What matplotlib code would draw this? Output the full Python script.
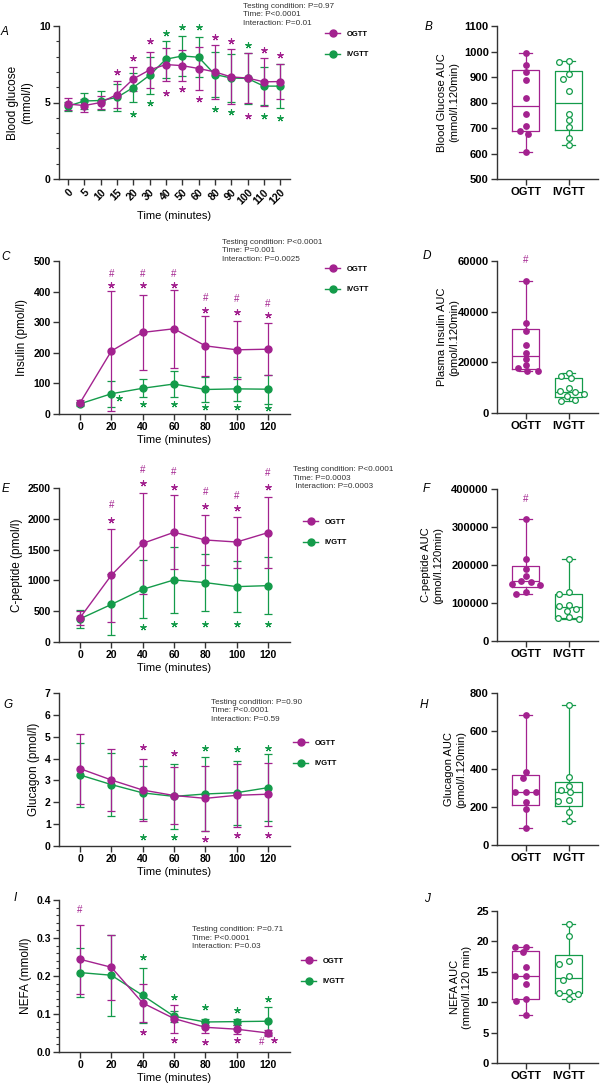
import numpy as np
import matplotlib
matplotlib.use('Agg')
import matplotlib.pyplot as plt
from matplotlib.lines import Line2D
from matplotlib.ticker import MultipleLocator

plt.rcParams['font.family'] = ['Liberation Sans', 'DejaVu Sans']
plt.rcParams['font.weight'] = 'bold'

# ---- data ----
a_time = ['0', '5', '10', '15', '20', '30', '40', '50', '60', '80', '90', '100', '110', '120']
a_og_mean = [4.9, 4.8, 5.0, 5.52, 6.54, 7.13, 7.48, 7.41, 7.22, 7.0, 6.67, 6.6, 6.35, 6.37]
a_og_sd = [0.4, 0.4, 0.4, 0.9, 0.8, 1.17, 1.1, 1.0, 1.4, 1.75, 1.8, 1.65, 1.58, 1.17]
a_iv_mean = [4.76, 5.1, 5.13, 5.33, 5.98, 6.78, 7.83, 8.04, 7.96, 6.83, 6.6, 6.57, 6.07, 6.07]
a_iv_sd = [0.3, 0.55, 0.65, 0.9, 0.95, 1.2, 1.2, 1.3, 1.3, 1.45, 1.55, 1.65, 1.25, 1.45]
a_og_star = [('15', 7.0), ('20', 7.93), ('30', 9.0), ('80', 9.3), ('90', 9.0), ('110', 8.46),
             ('120', 8.13), ('40', 5.65), ('50', 5.85), ('60', 5.24), ('100', 4.1)]
a_iv_star = [('40', 9.57), ('50', 9.93), ('60', 9.93), ('100', 8.78), ('20', 4.28), ('30', 4.98),
             ('80', 4.6), ('90', 4.39), ('110', 4.13), ('120', 3.96)]

time = [0, 20, 40, 60, 80, 100, 120]

c_og_mean = [35, 205, 266, 278, 222, 209, 211]
c_og_sd = [8, 197, 122, 128, 98, 94, 86]
c_iv_mean = [32, 65, 83, 97, 79, 81, 80]
c_iv_sd = [6, 43, 30, 43, 40, 40, 47]
c_og_star = [(20, 420), (40, 420), (60, 420), (80, 339), (100, 332), (120, 322)]
c_og_hash = [(20, 459), (40, 459), (60, 459), (80, 379), (100, 374), (120, 358)]
c_iv_star = [(25, 51), (40, 31), (60, 31), (80, 23), (100, 23), (120, 18)]

e_og_mean = [392, 1084, 1601, 1781, 1656, 1623, 1776]
e_og_sd = [116, 757, 817, 600, 408, 414, 577]
e_iv_mean = [376, 610, 855, 1008, 964, 899, 915]
e_iv_sd = [149, 496, 470, 540, 465, 415, 460]
e_og_star = [(20, 1983), (40, 2582), (60, 2516), (80, 2211), (100, 2173), (120, 2516)]
e_og_hash = [(20, 2222), (40, 2800), (60, 2756), (80, 2440), (100, 2375), (120, 2745)]
e_iv_star = [(40, 250), (60, 300), (80, 300), (100, 300), (120, 300)]

g_og_mean = [3.54, 3.02, 2.56, 2.31, 2.18, 2.32, 2.37]
g_og_sd = [1.6, 1.42, 1.4, 1.3, 1.48, 1.43, 1.45]
g_iv_mean = [3.25, 2.81, 2.43, 2.27, 2.38, 2.44, 2.67]
g_iv_sd = [1.48, 1.45, 1.21, 1.49, 1.71, 1.47, 1.53]
g_og_star = [(40, 4.52), (60, 4.24), (80, 0.34), (100, 0.5), (120, 0.5)]
g_iv_star = [(80, 4.5), (100, 4.43), (120, 4.5), (40, 0.43), (60, 0.43)]

i_og_mean = [0.244, 0.223, 0.129, 0.088, 0.065, 0.060, 0.050]
i_og_sd = [0.091, 0.086, 0.05, 0.037, 0.015, 0.012, 0.009]
i_iv_mean = [0.209, 0.202, 0.149, 0.094, 0.079, 0.080, 0.081]
i_iv_sd = [0.064, 0.106, 0.073, 0.015, 0.009, 0.008, 0.037]
i_og_star = [(40, 0.053), (60, 0.031), (80, 0.026), (100, 0.031), (124, 0.032)]
i_og_hash = [(0, 0.374), (116, 0.026)]
i_iv_star = [(40, 0.251), (60, 0.146), (80, 0.118), (100, 0.111), (120, 0.140)]

b_og = [996, 948, 919, 888, 818, 754, 708, 690, 677, 605]
b_iv = [963, 958, 910, 892, 844, 756, 733, 704, 660, 635]
d_og = [51970, 35400, 32240, 26970, 23680, 21300, 19080, 17630, 16580, 16450]
d_iv = [15900, 14500, 13700, 10000, 8700, 8200, 7400, 6700, 5300, 4900]
f_og = [320000, 217000, 190000, 172000, 159000, 156000, 151000, 148000, 129000, 125000]
f_iv = [217000, 128000, 124000, 95000, 92000, 85000, 78000, 62000, 60000, 57000]
h_og = [682, 382, 354, 279, 279, 279, 227, 190, 92]
h_iv = [736, 356, 309, 291, 280, 237, 234, 173, 124]
j_og = [19.15, 19.1, 18.27, 15.8, 14.39, 14.39, 12.96, 10.56, 10.23, 7.93]
j_iv = [22.9, 20.9, 16.74, 16.36, 14.33, 13.57, 11.7, 11.49, 11.32, 10.5]

groups = ['OGTT', 'IVGTT']

# ---- style ----
OG = '#A3228F'
IV = '#149B4A'
AX = '#333333'
W, H = 600, 1088

fig = plt.figure(figsize=(W / 100, H / 100), dpi=100)


def rect(l, r, t, b):
    return [l / W, 1 - b / H, (r - l) / W, (b - t) / H]


def fxy(x, y):
    return x / W, 1 - y / H


def style(ax, size):
    for s in ['top', 'right']:
        ax.spines[s].set_visible(False)
    for s in ['left', 'bottom']:
        ax.spines[s].set_linewidth(1.0)
        ax.spines[s].set_color(AX)
    ax.tick_params(width=1.0, length=4, color=AX, labelsize=size, pad=2)
    ax.tick_params(which='minor', width=0.8, length=2.5, color=AX)


def stars(ax, pts, c):
    xs, ys = zip(*pts)
    ax.plot(xs, ys, ls='none', marker=(5, 2, 0), ms=4.5, mew=0.8, color=c, clip_on=False, zorder=4)


def hashes(ax, pts, c):
    for x, y in pts:
        ax.text(x, y, '#', color=c, fontsize=7, fontweight='normal', ha='center', va='center')


def series(ax, x, m1, s1, m2, s2):
    ax.errorbar(x, m2, yerr=s2, fmt='-o', color=IV, ms=5, lw=1.0, elinewidth=0.9,
                capsize=2.8, capthick=0.9, zorder=3, clip_on=False)
    ax.errorbar(x, m1, yerr=s1, fmt='-o', color=OG, ms=5, lw=1.0, elinewidth=0.9,
                capsize=2.8, capthick=0.9, zorder=3, clip_on=False)


def legend(ax, x, y):
    hs = [Line2D([], [], color=OG, marker='o', ms=5, lw=1.0),
          Line2D([], [], color=IV, marker='o', ms=5, lw=1.0)]
    ax.legend(hs, groups, loc='center left', bbox_to_anchor=fxy(x, y), bbox_transform=fig.transFigure,
              frameon=False, prop={'size': 5.5, 'weight': 'bold'}, handlelength=2.0,
              handletextpad=0.8, labelspacing=1.7, borderpad=0, borderaxespad=0)


def stats(x, y, lines):
    fig.text(*fxy(x, y), '\n'.join(lines), fontsize=5.9, fontweight='normal', color=AX,
             ha='left', va='center', linespacing=1.3)


def letter(x, y, s):
    fig.text(*fxy(x, y), s, fontsize=8.5, fontstyle='italic', fontweight='normal',
             ha='center', va='center')


def swarm_x(ax, x0, vals, sx=10.5, sy=5.5):
    # beeswarm with an elliptical footprint: wide side spacing, tight vertical spacing
    disp = ax.transData.transform(np.column_stack([np.full(len(vals), x0), vals]))
    ys = disp[:, 1]
    placed = []
    off = np.zeros(len(vals))
    for i in np.argsort(-np.asarray(vals)):
        near = [(px, py) for px, py in placed if abs(py - ys[i]) < sy]
        cands = [0.0]
        for px, py in near:
            dx = sx * np.sqrt(1 - ((py - ys[i]) / sy) ** 2)
            cands += [px - dx, px + dx]
        for xo in sorted(cands, key=abs):
            if all(((xo - px) / sx) ** 2 + ((ys[i] - py) / sy) ** 2 >= 1 - 1e-6 for px, py in near):
                break
        placed.append((xo, ys[i]))
        off[i] = xo
    inv = ax.transData.inverted()
    return inv.transform(np.column_stack([disp[:, 0] + off, ys]))[:, 0]


def line_panel(r, ylim, ystep, ylabel, lab_x):
    ax = fig.add_axes(rect(*r))
    style(ax, 7.5)
    ax.set_xlim(-13.4, 134)
    ax.set_ylim(*ylim)
    ax.set_xticks(time)
    ax.yaxis.set_major_locator(MultipleLocator(ystep))
    ax.set_xlabel('Time (minutes)', fontsize=8, labelpad=2)
    ax.set_ylabel(ylabel, fontsize=8.5)
    ax.yaxis.set_label_coords(lab_x, 0.5)
    return ax


def box_panel(r, og, iv, ylim, ystep, ylabel, lab_x):
    ax = fig.add_axes(rect(*r))
    style(ax, 8)
    ax.set_xlim(-0.67, 1.68)
    ax.set_ylim(*ylim)
    ax.yaxis.set_major_locator(MultipleLocator(ystep))
    for i, (v, c) in enumerate(zip([og, iv], [OG, IV])):
        q1, med, q3 = np.percentile(v, [25, 50, 75], method='weibull')
        st = dict(med=med, q1=q1, q3=q3, whislo=min(v), whishi=max(v))
        lp = dict(color=c, lw=0.9)
        ax.bxp([st], positions=[i], widths=0.62, capwidths=0.3, showfliers=False,
               boxprops=lp, whiskerprops=lp, capprops=lp, medianprops=lp)
        xs = swarm_x(ax, i, v)
        if i == 0:
            ax.scatter(xs, v, s=24, color=c, zorder=3, clip_on=False, linewidths=0)
        else:
            ax.scatter(xs, v, s=17, facecolor='white', edgecolor=c, linewidths=0.9,
                       zorder=3, clip_on=False)
    ax.set_xticks([0, 1])
    ax.set_xticklabels(groups)
    ax.set_ylabel(ylabel, fontsize=8)
    ax.yaxis.set_label_coords(lab_x, 0.5)
    return ax


# ---- A ----
ax = fig.add_axes(rect(59, 290, 26, 179))
style(ax, 7.5)
xa = np.arange(len(a_time))
series(ax, xa, a_og_mean, a_og_sd, a_iv_mean, a_iv_sd)
stars(ax, [(a_time.index(t), y) for t, y in a_og_star], OG)
stars(ax, [(a_time.index(t), y) for t, y in a_iv_star], IV)
ax.set_xlim(-0.55, 13.6)
ax.set_ylim(0, 10)
ax.set_xticks(xa)
ax.set_xticklabels(a_time, rotation=45, ha='right', rotation_mode='anchor')
ax.yaxis.set_major_locator(MultipleLocator(5))
ax.yaxis.set_minor_locator(MultipleLocator(1))
ax.set_xlabel('Time (minutes)', fontsize=8, labelpad=3)
ax.set_ylabel('Blood glucose\n(mmol/l)', fontsize=8.5)
ax.yaxis.set_label_coords(-0.113, 0.5)
legend(ax, 325, 44.5)
stats(243, 15, ['Testing condition: P=0.97', 'Time: P<0.0001', 'Interaction: P=0.01'])

# ---- C ----
ax = line_panel((59, 290, 261, 413.6), (0, 500), 100, 'Insulin (pmol/l)', -0.134)
series(ax, time, c_og_mean, c_og_sd, c_iv_mean, c_iv_sd)
stars(ax, c_og_star, OG)
hashes(ax, c_og_hash, OG)
stars(ax, c_iv_star, IV)
legend(ax, 325, 279.5)
stats(222, 251, ['Testing condition: P<0.0001', 'Time: P=0.001', 'Interaction: P=0.0025'])

# ---- E ----
ax = line_panel((59, 290, 488, 642), (0, 2500), 500, 'C-peptide (pmol/l)', -0.156)
series(ax, time, e_og_mean, e_og_sd, e_iv_mean, e_iv_sd)
stars(ax, e_og_star, OG)
hashes(ax, e_og_hash, OG)
stars(ax, e_iv_star, IV)
legend(ax, 303, 532.5)
stats(293, 478, ['Testing condition: P<0.0001', 'Time: P=0.0003', ' Interaction: P=0.0003'])

# ---- G ----
ax = line_panel((59, 290, 693, 846), (0, 7), 1, 'Glucagon (pmol/l)', -0.082)
series(ax, time, g_og_mean, g_og_sd, g_iv_mean, g_iv_sd)
stars(ax, g_og_star, OG)
stars(ax, g_iv_star, IV)
legend(ax, 293, 753.5)
stats(211, 711, ['Testing condition: P=0.90', 'Time: P<0.0001', 'Interaction: P=0.59'])

# ---- I ----
ax = line_panel((59, 290, 900, 1052), (0, 0.4), 0.1, 'NEFA (mmol/l)', -0.117)
ax.yaxis.set_minor_locator(MultipleLocator(0.02))
ax.yaxis.set_major_formatter(lambda v, p: f'{v:.1f}')
series(ax, time, i_og_mean, i_og_sd, i_iv_mean, i_iv_sd)
stars(ax, i_og_star, OG)
hashes(ax, i_og_hash, OG)
stars(ax, i_iv_star, IV)
legend(ax, 301, 971.5)
stats(192, 938, ['Testing condition: P=0.71', 'Time: P<0.0001', 'Interaction: P=0.03'])

# ---- box panels ----
box_panel((497, 598, 26, 179), b_og, b_iv, (500, 1100), 100,
          'Blood Glucose AUC\n(mmol/l.120min)', -0.376)
ax = box_panel((497, 598, 261, 413), d_og, d_iv, (0, 60000), 20000,
               'Plasma Insulin AUC\n(pmol/l.120min)', -0.376)
hashes(ax, [(0, 60300)], OG)
ax = box_panel((497, 598, 489, 641), f_og, f_iv, (0, 400000), 100000,
               'C-peptide AUC\n(pmol/l.120min)', -0.535)
hashes(ax, [(0, 373000)], OG)
box_panel((497, 598, 693, 845), h_og, h_iv, (0, 800), 200,
          'Glucagon AUC\n(pmol/l.120min)', -0.307)
box_panel((497, 598, 911, 1063), j_og, j_iv, (0, 25), 5,
          'NEFA AUC\n(mmol/l.120 min)', -0.248)

for x, y, s in [(5, 32, 'A'), (429, 27, 'B'), (6, 257, 'C'), (427, 256, 'D'), (6, 489, 'E'),
                (426, 489, 'F'), (8, 705, 'G'), (424, 705, 'H'), (15, 898, 'I'), (427, 899, 'J')]:
    letter(x, y, s)

fig.savefig('out.png', dpi=100)
